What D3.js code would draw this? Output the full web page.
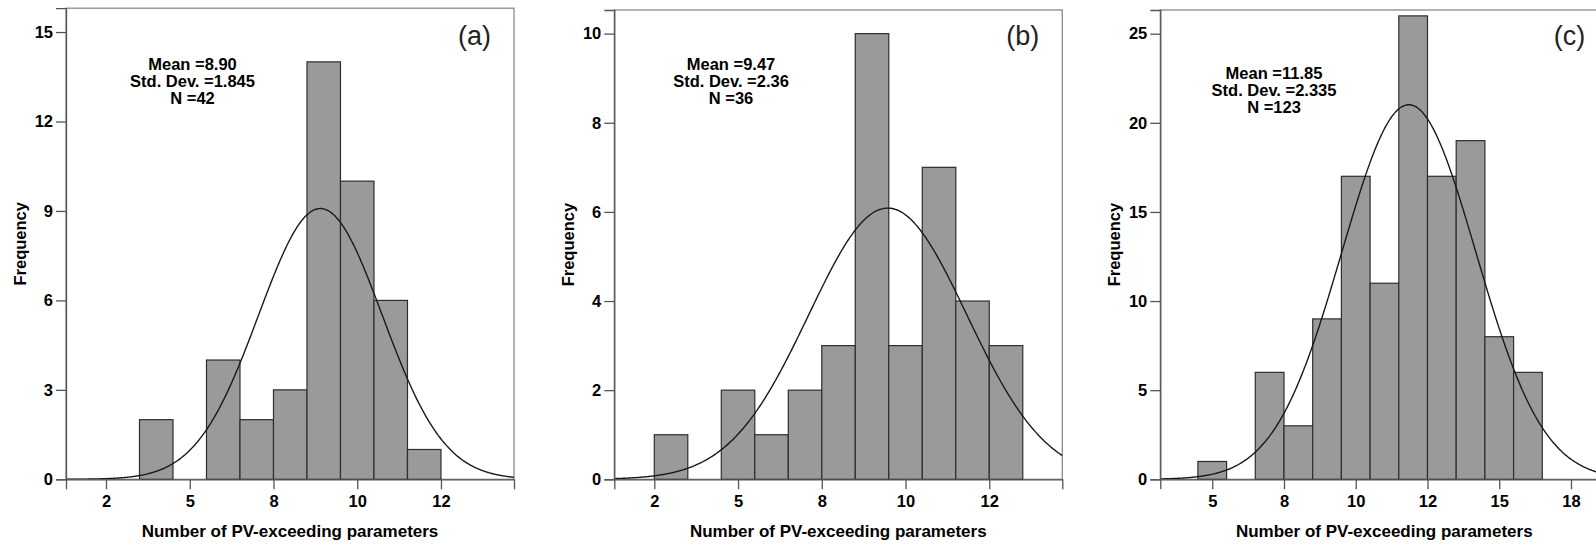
<!DOCTYPE html>
<html>
<head>
<meta charset="utf-8">
<script src="https://cdn.jsdelivr.net/npm/d3@7"></script>
<style>
  html, body { margin: 0; padding: 0; background: #fff; overflow: hidden; }
  svg text { font-family: "Liberation Sans", Arial, sans-serif; }
</style>
</head>
<body>
<svg id="chart" width="1596" height="545"></svg>
<script>
// ---------- data ----------
const panelLabels = ["(a)", "(b)", "(c)"];

const binsA = [4, 5, 6, 7, 8, 9, 10, 11, 12];
const countsA = [2, 0, 4, 2, 3, 14, 10, 6, 1];
const binsB = [3, 4, 5, 6, 7, 8, 9, 10, 11, 12, 13];
const countsB = [1, 0, 2, 1, 2, 3, 10, 3, 7, 4, 3];
const binsC = [5, 6, 7, 8, 9, 10, 11, 12, 13, 14, 15, 16];
const countsC = [1, 0, 6, 3, 9, 17, 11, 26, 17, 19, 8, 6];

const statsA = { mean: 8.90, sd: 1.845, n: 42 };
const statsB = { mean: 9.47, sd: 2.36, n: 36 };
const statsC = { mean: 11.85, sd: 2.335, n: 123 };

const annotA = ["Mean =8.90", "Std. Dev. =1.845", "N =42"];
const annotB = ["Mean =9.47", "Std. Dev. =2.36", "N =36"];
const annotC = ["Mean =11.85", "Std. Dev. =2.335", "N =123"];

const xTicksAB = [2.5, 5, 7.5, 10, 12.5];
const xTickLabelsAB = ["2", "5", "8", "10", "12"];
const xTicksC = [5, 7.5, 10, 12.5, 15, 17.5];
const xTickLabelsC = ["5", "8", "10", "12", "15", "18"];

const yTicksA = [0, 3, 6, 9, 12, 15];
const yTicksB = [0, 2, 4, 6, 8, 10];
const yTicksC = [0, 5, 10, 15, 20, 25];

const xTitle = "Number of PV-exceeding parameters";
const yTitle = "Frequency";

// ---------- layout ----------
const panels = [
  { label: panelLabels[0], bins: binsA, counts: countsA, stats: statsA, annot: annotA,
    xTicks: xTicksAB, xLabels: xTickLabelsAB, yTicks: yTicksA,
    left: 66, top: 8.2, xDom: [1.306, 14.68], yMax: 15.8, annX: 192.5, annY: 70 },
  { label: panelLabels[1], bins: binsB, counts: countsB, stats: statsB, annot: annotB,
    xTicks: xTicksAB, xLabels: xTickLabelsAB, yTicks: yTicksB,
    left: 614.3, top: 10, xDom: [1.306, 14.68], yMax: 10.53, annX: 731, annY: 69.5 },
  { label: panelLabels[2], bins: binsC, counts: countsC, stats: statsC, annot: annotC,
    xTicks: xTicksC, xLabels: xTickLabelsC, yTicks: yTicksC,
    left: 1160.3, top: 10, xDom: [3.19, 18.8], yMax: 26.33, annX: 1274, annY: 79 }
];
const plotW = 448, bottom = 479.3;

const svg = d3.select("#chart");

panels.forEach((p, i) => {
  const x = d3.scaleLinear().domain(p.xDom).range([p.left, p.left + plotW]);
  const y = d3.scaleLinear().domain([0, p.yMax]).range([bottom, p.top]);
  const g = svg.append("g");

  const clipId = "clip" + i;
  svg.append("clipPath").attr("id", clipId)
    .append("rect").attr("x", p.left).attr("y", p.top)
    .attr("width", plotW).attr("height", bottom - p.top);

  // frame
  g.append("rect")
    .attr("x", p.left).attr("y", p.top)
    .attr("width", plotW).attr("height", bottom - p.top)
    .attr("fill", "none").attr("stroke", "#8a8a8a").attr("stroke-width", 1.3);

  // bars
  const data = p.bins.map((b, k) => ({ b, c: p.counts[k] })).filter(d => d.c > 0);
  g.append("g").selectAll("rect").data(data).join("rect")
    .attr("x", d => x(d.b - 0.5))
    .attr("width", d => x(d.b + 0.5) - x(d.b - 0.5))
    .attr("y", d => y(d.c))
    .attr("height", d => y(0) - y(d.c))
    .attr("fill", "#9a9a9a")
    .attr("stroke", "#2e2e2e")
    .attr("stroke-width", 1.2);

  // normal curve (fitted from the displayed mean, sd, N; bin width 1)
  const s = p.stats;
  const pts = d3.range(0, 401).map(k => {
    const v = p.xDom[0] + (p.xDom[1] - p.xDom[0]) * k / 400;
    const f = s.n / (s.sd * Math.sqrt(2 * Math.PI)) * Math.exp(-0.5 * Math.pow((v - s.mean) / s.sd, 2));
    return [v, f];
  });
  g.append("path")
    .datum(pts)
    .attr("clip-path", `url(#${clipId})`)
    .attr("fill", "none")
    .attr("stroke", "#1a1a1a")
    .attr("stroke-width", 1.4)
    .attr("d", d3.line().x(d => x(d[0])).y(d => y(d[1])).curve(d3.curveBasis));

  // axes
  const yAxis = g.append("g").attr("transform", `translate(${p.left},0)`)
    .call(d3.axisLeft(y).tickValues(p.yTicks).tickSize(10).tickPadding(3).tickFormat(d3.format("d")));
  const xAxis = g.append("g").attr("transform", `translate(0,${bottom})`)
    .call(d3.axisBottom(x).tickValues(p.xTicks).tickSize(10).tickPadding(6)
      .tickFormat((d, k) => p.xLabels[k]));
  [yAxis, xAxis].forEach(a => {
    a.select(".domain").attr("stroke", "#555").attr("stroke-width", 1.3);
    a.selectAll(".tick line").attr("stroke", "#555").attr("stroke-width", 1.3);
    a.selectAll(".tick text")
      .attr("fill", "#000")
      .style("font-size", "16.5px")
      .style("font-weight", "bold");
  });

  // panel label
  g.append("text")
    .attr("x", p.left + plotW - 23)
    .attr("y", 45)
    .attr("text-anchor", "end")
    .style("font-size", "27px")
    .attr("fill", "#222")
    .text(p.label);

  // annotation
  const ann = g.append("text")
    .attr("text-anchor", "middle")
    .style("font-size", "16.5px")
    .style("font-weight", "bold")
    .attr("fill", "#000");
  p.annot.forEach((t, k) => {
    ann.append("tspan").attr("x", p.annX).attr("y", p.annY + k * 17.2).text(t);
  });

  // axis titles
  g.append("text")
    .attr("x", p.left + plotW / 2)
    .attr("y", 537)
    .attr("text-anchor", "middle")
    .style("font-size", "17px")
    .style("font-weight", "bold")
    .attr("fill", "#000")
    .text(xTitle);

  g.append("text")
    .attr("transform", `translate(${p.left - 40.5},${(p.top + bottom) / 2}) rotate(-90)`)
    .attr("text-anchor", "middle")
    .style("font-size", "16.5px")
    .style("font-weight", "bold")
    .attr("fill", "#000")
    .text(yTitle);
});
</script>
</body>
</html>
